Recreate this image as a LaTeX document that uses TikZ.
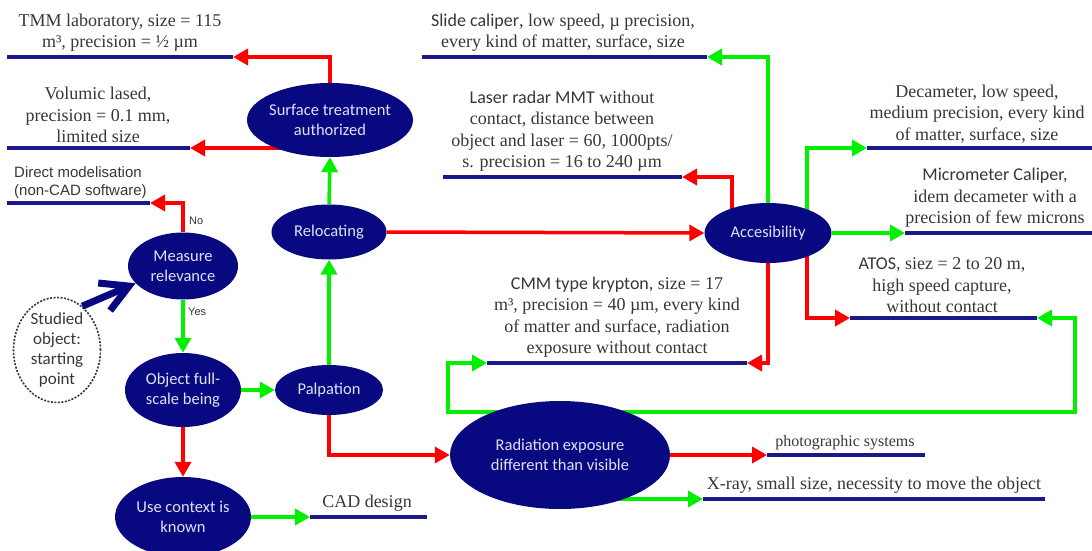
\documentclass[tikz,border=0pt]{standalone}
\usepackage{fontspec}
\setmainfont{Liberation Serif}
\newfontfamily\carl{Carlito}
\newfontfamily\arl{Liberation Sans}
\usetikzlibrary{shapes.geometric,arrows.meta,backgrounds,calc}
\definecolor{navy}{RGB}{8,8,128}
\definecolor{bl}{RGB}{25,25,140}
\definecolor{gr}{RGB}{0,240,0}
\definecolor{rd}{RGB}{255,0,0}
\definecolor{tx}{RGB}{55,55,55}
\definecolor{et}{RGB}{225,225,245}
\newcommand\mysf[1]{{\carl\fontsize{18}{21.5}\selectfont #1}}
\begin{document}
\begin{tikzpicture}[x=1pt,y=-1pt,
  ell/.style={ellipse,fill=navy,draw=none,inner sep=0pt},
  etxt/.style={text=et,font=\carl\fontsize{16.5}{20}\selectfont,align=center,inner sep=0pt},
  lbl/.style={text=tx,font=\fontsize{18}{21.5}\selectfont,align=center,inner sep=0pt,anchor=south},
  bline/.style={draw=bl,line width=4pt},
  con/.style={line width=3.5pt,-{Triangle[length=15pt,width=16pt]}},
  rc/.style={con,rd},
  gc/.style={con,gr},
  small/.style={text=tx,font=\arl\fontsize{11}{13}\selectfont,inner sep=0pt,anchor=west}
]
\useasboundingbox (0,0) rectangle (1092,551);

% ellipses
\node[ell,minimum width=166pt,minimum height=74pt] (surf) at (330,120) {};
\node[etxt] (surfT) at (surf) {Surface treatment\\authorized};
\node[ell,minimum width=115pt,minimum height=55pt] (reloc) at (329,232) {};
\node[etxt] (relocT) at (reloc) {Relocating};
\node[ell,minimum width=110pt,minimum height=67pt] (meas) at (183,266) {};
\node[etxt] (measT) at (meas) {Measure\\relevance};
\node[ell,minimum width=116pt,minimum height=74pt] (full) at (183,390) {};
\node[etxt] (fullT) at (full) {Object full-\\scale being};
\node[ell,minimum width=108pt,minimum height=50pt] (palp) at (329,390) {};
\node[etxt] (palpT) at (palp) {Palpation};
\node[ell,minimum width=136pt,minimum height=80pt] (use) at (183,517) {};
\node[etxt] (useT) at (use) {Use context is\\known};
\node[ell,minimum width=220pt,minimum height=108pt] (rad) at (560,455) {};
\node[etxt] (radT) at (rad) {Radiation exposure\\different than visible};
\node[ell,minimum width=127pt,minimum height=60pt] (acc) at (768,233) {};
\node[etxt] (accT) at (acc) {Accesibility};
\node[ellipse,draw=tx,dash pattern=on 2pt off 1.5pt,line width=1.6pt,fill=white,
      minimum width=87pt,minimum height=105pt,inner sep=0pt] (stud) at (57,350) {};
\node[text=tx,font=\carl\fontsize{17}{20}\selectfont,align=center,inner sep=0pt] (studT) at (stud) {Studied\\object:\\starting\\point};

% line end points
\coordinate (tmmL) at (7,57);     \coordinate (tmmR) at (233,57);
\coordinate (volL) at (7,148);    \coordinate (volR) at (190,148);
\coordinate (dirL) at (7,203);    \coordinate (dirR) at (150,203);
\coordinate (slideL) at (422,57); \coordinate (slideR) at (707,57);
\coordinate (laserL) at (443,177);\coordinate (laserR) at (682,177);
\coordinate (decaL) at (867,148); \coordinate (decaR) at (1092,148);
\coordinate (microL) at (905,233);\coordinate (microR) at (1092,233);
\coordinate (atosL) at (850,318); \coordinate (atosR) at (1037,318);
\coordinate (cmmL) at (487,363);  \coordinate (cmmR) at (747,363);
\coordinate (cadL) at (310,517);  \coordinate (cadR) at (427,517);
\coordinate (photoL) at (767,455);\coordinate (photoR) at (925,455);
\coordinate (xrayL) at (703,499); \coordinate (xrayR) at (1045,499);
\coordinate (loopL) at (448,412); \coordinate (loopR) at (1075,412);

\begin{scope}[on background layer]
\fill[white] (0,0) rectangle (1092,551);
% red connectors
\draw[rc] (surf.north) |- (tmmR);
\draw[rc] (surf.center |- volR) -- (volR);
\draw[rc] (meas.north) |- (dirR);
\draw[rc] (full.south) -- (use.north);
\draw[rc] (palp.south) |- (rad.west);
\draw[rc] (reloc.east) -- (acc.west);
\draw[rc] ($(acc.center)+(-36,0)$) |- (laserR);
\draw[rc] ($(acc.center)+(39,0)$) |- (atosL);
\draw[rc] (acc.south) |- (cmmR);
\draw[rc] (rad.east) -- (photoL);
% green connectors
\draw[gc] (meas.south) -- (full.north);
\draw[gc] (full.east) -- (palp.west);
\draw[gc] (palp.north) -- (reloc.south);
\draw[gc] (reloc.north) -- (surf.south);
\draw[gc] (use.east) -- (cadL);
\draw[gc] (acc.north) |- (slideR);
\draw[gc] ($(acc.center)+(39,0)$) |- (decaL);
\draw[gc] (acc.east) -- (microL);
\draw[gc] (rad.center |- loopL) -- (loopL) |- (cmmL);
\draw[gc] (rad.center |- loopR) -- (loopR) |- (atosR);
\draw[gc] (rad.center |- xrayL) -- (xrayL);
\end{scope}

% fat start arrow
\draw[navy,line width=7pt,-{Straight Barb[length=27pt,width=30pt]}] (stud.60) -- (meas.200);

% blue lines
\draw[bline] (tmmL) -- (tmmR);
\draw[bline] (volL) -- (volR);
\draw[bline] (dirL) -- (dirR);
\draw[bline] (slideL) -- (slideR);
\draw[bline] (laserL) -- (laserR);
\draw[bline] (decaL) -- (decaR);
\draw[bline] (microL) -- (microR);
\draw[bline] (atosL) -- (atosR);
\draw[bline] (cmmL) -- (cmmR);
\draw[bline] (cadL) -- (cadR);
\draw[bline] (photoL) -- (photoR);
\draw[bline] (xrayL) -- (xrayR);

% labels
\node[lbl] (tmmT) at (120,52) {TMM laboratory, size = 115\\m³, precision = ½ µm};
\node[lbl] (volT) at (98,143) {Volumic lased,\\precision = 0.1 mm,\\limited size};
\node[text=tx,font=\arl\fontsize{15}{18}\selectfont,align=left,anchor=south west,inner sep=0pt] (dirT) at (14,199) {Direct modelisation\\(non-CAD software)};
\node[lbl] (slideT) at (563,52) {\mysf{Slide caliper}, low speed, µ precision,\\every kind of matter, surface, size};
\node[lbl] (laserT) at (562,172) {\mysf{Laser radar MMT} without\\contact, distance between\\object and laser = 60, 1000pts/\\s. precision = 16 to 240 µm};
\node[lbl] (decaT) at (977,143) {Decameter, low speed,\\medium precision, every kind\\of matter, surface, size};
\node[lbl] (microT) at (995,228) {\mysf{Micrometer Caliper,}\\idem decameter with a\\precision of few microns};
\node[lbl] (atosT) at (942,313) {\mysf{ATOS,} siez = 2 to 20 m,\\high speed capture,\\without contact};
\node[lbl] (cmmT) at (617,358) {\mysf{CMM type krypton,} size = 17\\m³, precision = 40 µm, every kind\\of matter and surface, radiation\\exposure without contact};
\node[lbl] (cadT) at (367,512) {CAD design};
\node[lbl,font=\fontsize{16}{19}\selectfont] (photoT) at (845,450) {photographic systems};
\node[lbl] (xrayT) at (874,494) {X-ray, small size, necessity to move the object};
\node[small] (noT) at (189,221) {No};
\node[small] (yesT) at (188,312) {Yes};
\end{tikzpicture}
\end{document}
